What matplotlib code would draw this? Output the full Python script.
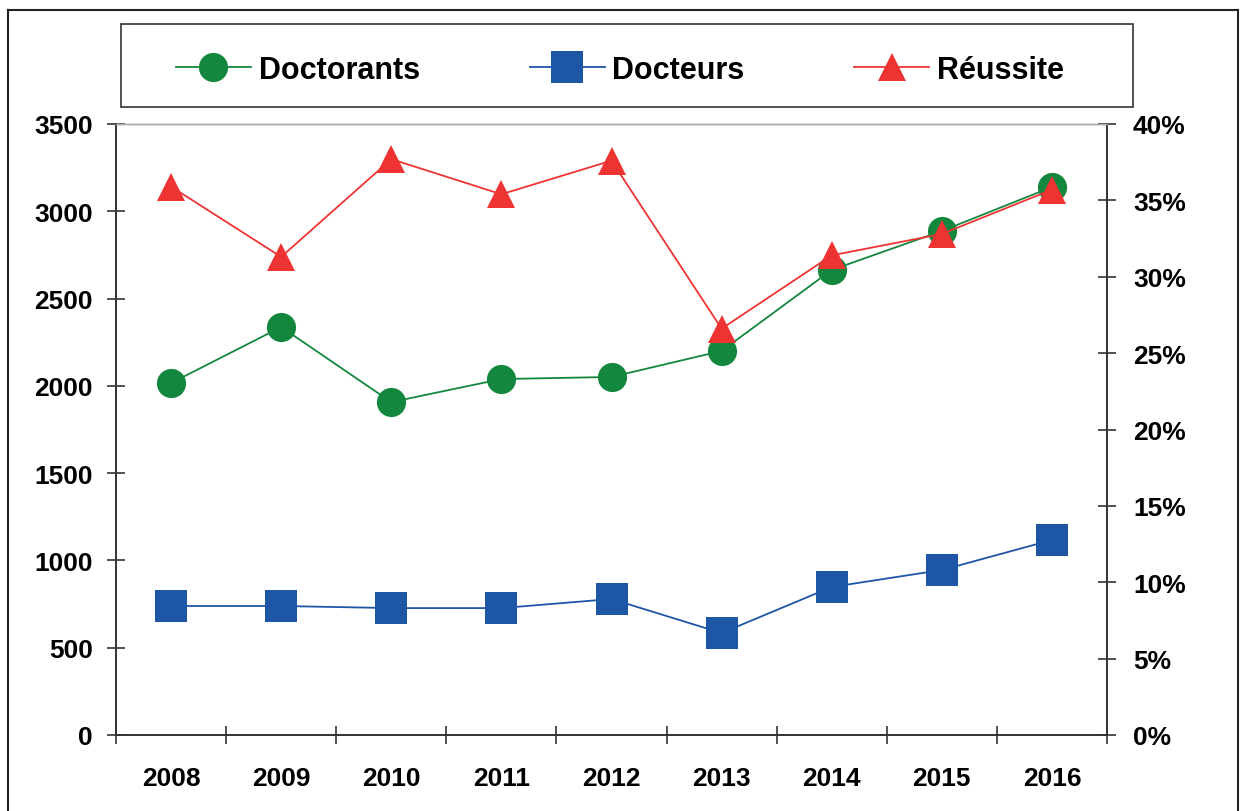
import matplotlib
matplotlib.use("Agg")
import matplotlib.pyplot as plt
from matplotlib.lines import Line2D
from matplotlib.patches import Rectangle
from matplotlib.ticker import MultipleLocator, FuncFormatter, FixedLocator

years = ["2008", "2009", "2010", "2011", "2012", "2013", "2014", "2015", "2016"]
doctorants = [2016, 2337, 1907, 2039, 2051, 2200, 2664, 2887, 3139]
docteurs = [739, 739, 727, 727, 779, 584, 848, 945, 1117]
reussite = [35.9, 31.3, 37.7, 35.4, 37.6, 26.6, 31.4, 32.8, 35.7]

green = "#14873F"
blue = "#1E56A6"
red = "#EE3333"

plt.rcParams['font.family'] = ['Liberation Sans', 'DejaVu Sans']
plt.rcParams['font.weight'] = 'bold'

fig = plt.figure(figsize=(12.44, 8.12), dpi=100)
ax = fig.add_axes([116/1244, 1-736/812, (1107-116)/1244, (736-125)/812])
ax2 = ax.twinx()

x = list(range(len(years)))
l1, = ax.plot(x, doctorants, color=green, lw=1.3, marker='o', markersize=21, markeredgewidth=0, zorder=3)
l2, = ax.plot(x, docteurs, color=blue, lw=1.3, marker='s', markersize=23.5, markeredgewidth=0, zorder=3)
l3, = ax2.plot(x, reussite, color=red, lw=1.3, marker='^', markersize=20, markeredgewidth=0, zorder=3)

ax.set_xlim(-0.5, len(years) - 0.5)
ax.set_ylim(0, 3500)
ax2.set_ylim(0, 40)
ax.yaxis.set_major_locator(MultipleLocator(500))
ax2.yaxis.set_major_locator(MultipleLocator(5))
ax2.yaxis.set_major_formatter(FuncFormatter(lambda v, p: f"{int(v)}%"))

ax.set_xticks(x)
ax.set_xticklabels(years)
ax.xaxis.set_minor_locator(FixedLocator([i - 0.5 for i in range(len(years) + 1)]))
ax.tick_params(axis='x', which='major', length=0, pad=22, labelsize=19)
ax.tick_params(axis='x', which='minor', direction='inout', length=13.5, width=1.2, color='#333333')
ax.tick_params(axis='y', direction='inout', length=13.5, width=1.2, labelsize=19, pad=10, color='#333333')
ax2.tick_params(axis='y', direction='inout', length=13.5, width=1.2, labelsize=19, pad=12, color='#333333')

for a in (ax, ax2):
    for s in a.spines.values():
        s.set_linewidth(1.2)
        s.set_color('#333333')
    a.spines['top'].set_color('#aaaaaa')
    a.spines['top'].set_linewidth(1.0)
for lab in ax.get_xticklabels() + ax.get_yticklabels() + ax2.get_yticklabels():
    lab.set_fontweight('bold')

# outer frame
fig.add_artist(Line2D([8/1244, 8/1244], [0, 1-11/812], transform=fig.transFigure, color='#222222', lw=1.5))
fig.add_artist(Line2D([8/1244, 1238/1244], [1-11/812, 1-11/812], transform=fig.transFigure, color='#222222', lw=1.5))
fig.add_artist(Line2D([1238/1244, 1238/1244], [0, 1-11/812], transform=fig.transFigure, color='#222222', lw=1.5))

# legend frame
fig.add_artist(Rectangle((121/1244, 1-108/812), (1133-121)/1244, (108-25)/812,
                         transform=fig.transFigure, fill=False, edgecolor='#333333', lw=1.2))

leg = fig.legend([l1, l2, l3], ["Doctorants", "Docteurs", "Réussite"],
                 loc='center', ncol=3, bbox_to_anchor=(620/1244, 1-71/812),
                 frameon=False, prop={'size': 22, 'weight': 'bold'},
                 handlelength=2.45, handletextpad=0.25, columnspacing=3.6,
                 borderpad=0, borderaxespad=0)

fig.savefig("out.png", dpi=100)
